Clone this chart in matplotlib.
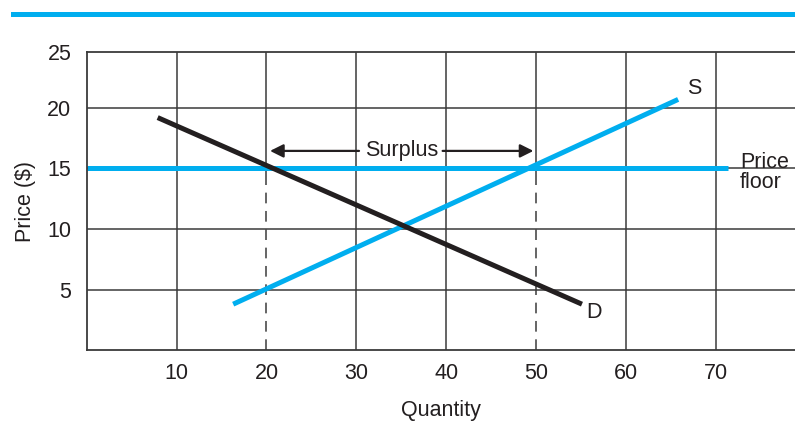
import matplotlib.pyplot as plt

# Demand and supply endpoints (quantity, price)
demand_q = [7.9, 55.1]
demand_p = [19.2, 3.8]
supply_q = [16.3, 65.8]
supply_p = [3.8, 20.7]

floor_price = 15
floor_end_q = 71.4
surplus_q = [20, 50]
surplus_arrow_p = 16.45

x_ticks = [10, 20, 30, 40, 50, 60, 70]
y_ticks = [5, 10, 15, 20]

BLUE = '#00aeef'
INK = '#231f20'
GRID = '#3a3a3a'
FS = 15.5

plt.rcParams['font.family'] = ['Liberation Sans', 'DejaVu Sans']

fig = plt.figure(figsize=(7.95, 4.24), dpi=100)
ax = fig.add_axes([0.109, 0.174, 0.891, 0.703])
y_top = 24.6
ax.set_xlim(0, 78.8)
ax.set_ylim(0, y_top)

# Banner rule across the top of the figure
fig.add_artist(plt.Line2D([0.016, 1.0], [0.966, 0.966], color=BLUE, lw=3.6,
                          transform=fig.transFigure))

# grid: full lines except at the surplus quantities
for q in x_ticks:
    if q in surplus_q:
        ax.vlines(q, 14, y_top, color=GRID, lw=1.1, zorder=1)
        ax.vlines(q, 0, 14, color=GRID, lw=1.1, linestyles=(0, (7, 5)), zorder=1)
    else:
        ax.vlines(q, 0, y_top, color=GRID, lw=1.1, zorder=1)
for p in y_ticks:
    ax.axhline(p, color=GRID, lw=1.1, zorder=1)

for side in ['left', 'bottom', 'top']:
    ax.spines[side].set_color(GRID)
    ax.spines[side].set_linewidth(1.3)
ax.spines['right'].set_visible(False)

# price floor
ax.plot([0, floor_end_q], [floor_price, floor_price], color=BLUE, lw=3.6,
        solid_capstyle='butt', zorder=2)
ax.text(floor_end_q + 1.3, floor_price - 0.3, 'Price\nfloor', fontsize=FS,
        color=INK, va='center', ha='left', linespacing=0.95)

# supply and demand
ax.plot(supply_q, supply_p, color=BLUE, lw=3.6, solid_capstyle='butt', zorder=3)
ax.plot(demand_q, demand_p, color=INK, lw=3.6, solid_capstyle='butt', zorder=4)
ax.text(supply_q[1] + 1.0, supply_p[1] + 0.9, 'S', fontsize=FS, color=INK,
        ha='left', va='center')
ax.text(demand_q[1] + 0.5, demand_p[1] - 0.7, 'D', fontsize=FS, color=INK,
        ha='left', va='center')

# surplus arrows
mid = (surplus_q[0] + surplus_q[1]) / 2
arrow = dict(arrowstyle='-|>', color=INK, lw=1.6, mutation_scale=20,
             shrinkA=0, shrinkB=0)
ax.annotate('', xy=(surplus_q[0] + 0.4, surplus_arrow_p),
            xytext=(mid - 4.7, surplus_arrow_p), arrowprops=arrow, zorder=5)
ax.annotate('', xy=(surplus_q[1] - 0.3, surplus_arrow_p),
            xytext=(mid + 4.6, surplus_arrow_p), arrowprops=arrow, zorder=5)
ax.text(mid, surplus_arrow_p, 'Surplus', fontsize=FS, color=INK,
        ha='center', va='center', zorder=5)

ax.set_xticks(x_ticks)
ax.set_xticklabels([str(v) for v in x_ticks])
ax.set_yticks(y_ticks + [y_top])
ax.set_yticklabels([str(v) for v in y_ticks] + ['25'])
ax.tick_params(length=0, labelsize=FS, labelcolor=INK, pad=9)
ax.tick_params(axis='y', pad=11)

ax.set_xlabel('Quantity', fontsize=FS, color=INK, labelpad=12)
ax.set_ylabel('Price ($)', fontsize=FS, color=INK, labelpad=8)

fig.savefig('out.png', dpi=100)
